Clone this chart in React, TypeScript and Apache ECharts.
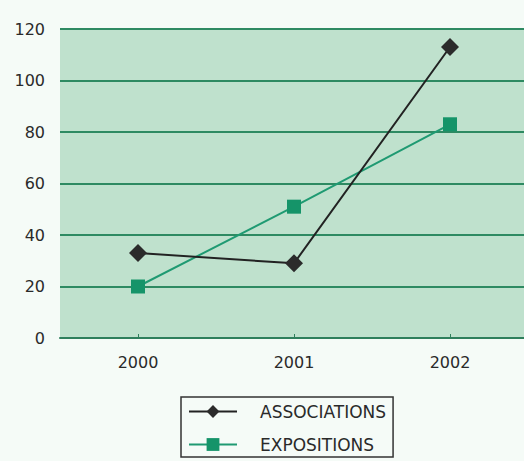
import React, { useEffect, useRef } from "react";
import * as echarts from "echarts";

const years = ["2000", "2001", "2002"];
const associations = [33, 29, 113];
const expositions = [20, 51, 83];
const yTicks = { min: 0, max: 120, interval: 20 };

export default function App() {
  const ref = useRef<HTMLDivElement>(null);
  useEffect(() => {
    const chart = echarts.init(ref.current!, null, { renderer: "svg" });
    chart.setOption({
      animation: false,
      backgroundColor: "#f5fbf7",
      grid: {
        left: 60,
        width: 468,
        top: 29,
        bottom: 123,
        show: true,
        backgroundColor: "#bfe1cd",
        borderWidth: 0,
        outerBoundsMode: "none",
      },
      xAxis: {
        type: "category",
        data: years,
        axisLine: { lineStyle: { color: "#2e7f5c", width: 2 } },
        axisTick: { show: true, alignWithLabel: true, inside: true, length: 4, lineStyle: { color: "#2e7f5c" } },
        axisLabel: { color: "#2a2a2a", fontSize: 16, margin: 16, fontFamily: "DejaVu Sans" },
      },
      yAxis: {
        type: "value",
        min: yTicks.min,
        max: yTicks.max,
        interval: yTicks.interval,
        axisLine: { show: false },
        axisTick: { show: false },
        splitLine: { lineStyle: { color: "#2e8a62", width: 2 } },
        axisLabel: { color: "#2a2a2a", fontSize: 16, margin: 15, fontFamily: "DejaVu Sans" },
      },
      legend: {
        orient: "vertical",
        left: 181,
        top: 397,
        borderColor: "#333",
        borderWidth: 1.5,
        padding: [6, 7, 4, 7],
        itemWidth: 48,
        itemHeight: 16,
        itemGap: 16,
        textStyle: { color: "#2a2a2a", fontSize: 17, fontFamily: "DejaVu Sans", padding: [0, 12, 0, 18], width: 140 },
        data: ["ASSOCIATIONS", "EXPOSITIONS"],
      },
      series: [
        {
          name: "ASSOCIATIONS",
          type: "line",
          data: associations,
          symbol: "diamond",
          symbolSize: 18,
          lineStyle: { color: "#222", width: 2 },
          itemStyle: { color: "#2b2b2b" },
          z: 3,
        },
        {
          name: "EXPOSITIONS",
          type: "line",
          data: expositions,
          symbol: "rect",
          symbolSize: 14,
          lineStyle: { color: "#1f9a72", width: 2 },
          itemStyle: { color: "#159469" },
          z: 2,
        },
      ],
    });
    return () => chart.dispose();
  }, []);
  return <div ref={ref} style={{ width: 524, height: 461, position: "absolute", left: 0, top: 0 }} />;
}
